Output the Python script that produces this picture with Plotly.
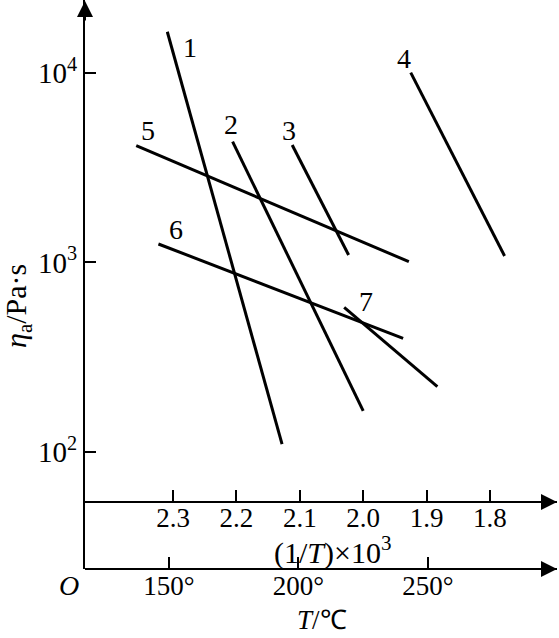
import math
import plotly.graph_objects as go

# ---- data ----
line_names = ["1", "2", "3", "4", "5", "6", "7"]
inv_t_start = [2.309, 2.206, 2.112, 1.925, 2.358, 2.323, 2.030]
inv_t_end = [2.128, 2.000, 2.023, 1.777, 1.928, 1.937, 1.883]
eta_start = [16500, 4340, 4170, 10040, 4134, 1252, 580]
eta_end = [110, 165, 1095, 1082, 1010, 398, 221]

label_inv_t = [2.273, 2.2085, 2.117, 1.936, 2.339, 2.295, 1.996]
label_eta = [13550, 5317, 5000, 11860, 5000, 1484, 621]

inv_t_ticks = [2.3, 2.2, 2.1, 2.0, 1.9, 1.8]
inv_t_ticktext = ["2.3", "2.2", "2.1", "2.0", "1.9", "1.8"]
temp_ticks = [150, 200, 250]
temp_ticktext = ["150°", "200°", "250°"]
eta_ticks = [100, 1000, 10000]
eta_ticktext = ["10<sup>2</sup>", "10<sup>3</sup>", "10<sup>4</sup>"]

SERIF = "Liberation Serif"

fig = go.Figure()
for i, name in enumerate(line_names):
    fig.add_trace(go.Scatter(
        x=[inv_t_start[i], inv_t_end[i]],
        y=[eta_start[i], eta_end[i]],
        mode="lines",
        line=dict(color="black", width=3),
        showlegend=False,
        hoverinfo="skip",
    ))
# invisible trace to activate the temperature axis
fig.add_trace(go.Scatter(x=[temp_ticks[0]], y=[eta_ticks[0]], xaxis="x2",
                         mode="markers", marker=dict(opacity=0),
                         showlegend=False, hoverinfo="skip"))

for i, name in enumerate(line_names):
    fig.add_annotation(x=label_inv_t[i], y=math.log10(label_eta[i]),
                       xref="x", yref="y", text=name, showarrow=False,
                       xanchor="center", yanchor="middle",
                       font=dict(family=SERIF, size=28, color="black"))

W, H = 559, 638
ml, mr, mt, mb = 85, 2, 0, 69
plot_w = W - ml - mr
plot_h = H - mt - mb


def px(x):
    return (x - ml) / plot_w


def py(y):
    return (H - mb - y) / plot_h


fig.update_layout(
    width=W, height=H,
    margin=dict(l=ml, r=mr, t=mt, b=mb, autoexpand=False),
    paper_bgcolor="white", plot_bgcolor="white",
    font=dict(family=SERIF, color="black"),
    xaxis=dict(
        range=[2.4388, 1.6943], anchor="free", position=py(502),
        tickvals=inv_t_ticks, ticktext=inv_t_ticktext,
        ticks="inside", ticklen=11, tickwidth=1.5, tickcolor="black",
        showline=True, linewidth=2, linecolor="black",
        showgrid=False, zeroline=False,
        tickfont=dict(family=SERIF, size=27, color="black"),
        ticklabelstandoff=-8,
    ),
    xaxis2=dict(
        range=[117.6, 299.8], overlaying="x", anchor="free", position=0,
        side="bottom",
        tickvals=temp_ticks, ticktext=temp_ticktext,
        ticks="inside", ticklen=11, tickwidth=1.5, tickcolor="black",
        showline=True, linewidth=2, linecolor="black",
        showgrid=False, zeroline=False,
        tickfont=dict(family=SERIF, size=27, color="black"),
        ticklabelstandoff=-7,
    ),
    yaxis=dict(
        type="log", range=[1.3826, 4.385],
        tickvals=eta_ticks, ticktext=eta_ticktext,
        ticks="inside", ticklen=11, tickwidth=1.5, tickcolor="black",
        showline=True, linewidth=2, linecolor="black",
        showgrid=False, zeroline=False,
        tickfont=dict(family=SERIF, size=29, color="black"),
        ticklabelstandoff=0,
    ),
)

# axis arrowheads
arrow = dict(showarrow=True, arrowhead=2, arrowsize=1.6, arrowwidth=2,
             arrowcolor="black", text="", xref="paper", yref="paper")
fig.add_annotation(x=0, y=1, ax=0, ay=22, **arrow)
fig.add_annotation(x=1, y=py(502), ax=-22, ay=0, **arrow)
fig.add_annotation(x=1, y=0, ax=-22, ay=0, **arrow)

# axis titles
title = dict(xref="paper", yref="paper", showarrow=False,
             xanchor="center", yanchor="middle")
fig.add_annotation(x=px(332), y=py(550), text="(1/<i>T</i>)×10<sup>3</sup>",
                   font=dict(family=SERIF, size=30, color="black"), **title)
fig.add_annotation(x=px(322), y=py(620), text="<i>T</i>/℃",
                   font=dict(family=SERIF, size=27, color="black"), **title)
fig.add_annotation(x=px(69), y=py(585), text="<i>O</i>",
                   font=dict(family=SERIF, size=28, color="black"), **title)
fig.add_annotation(x=px(18), y=py(306), textangle=-90,
                   text="<i>η</i><sub>a</sub>/Pa·s",
                   font=dict(family=SERIF, size=30, color="black"), **title)

fig.write_html("out.html", config={"displayModeBar": False},
               post_script="document.body.style.margin='0';document.body.style.overflow='hidden';")
